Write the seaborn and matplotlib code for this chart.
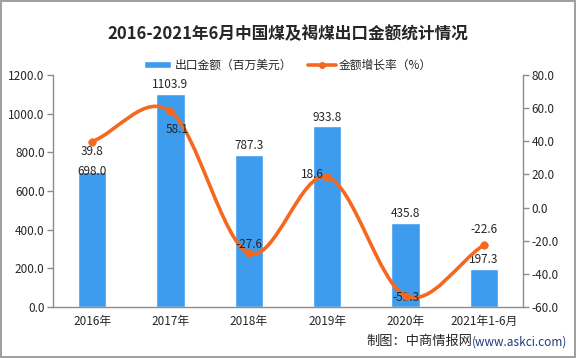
import matplotlib
matplotlib.use('Agg')
import matplotlib.pyplot as plt
import seaborn as sns
import pandas as pd
import numpy as np
from matplotlib.path import Path
from matplotlib.patches import PathPatch, Patch
from matplotlib.lines import Line2D

# data
years = ['2016年', '2017年', '2018年', '2019年', '2020年', '2021年1-6月']
export_value = [698.0, 1103.9, 787.3, 933.8, 435.8, 197.3]
growth_rate = [39.8, 58.1, -27.6, 18.6, -53.3, -22.6]

bar_color = '#3E9CEF'
line_color = '#F4691F'

sns.set_style('white')
plt.rcParams['font.family'] = ['Noto Sans CJK SC', 'DejaVu Sans']

df = pd.DataFrame({'year': years, 'value': export_value, 'growth': growth_rate})

fig = plt.figure(figsize=(5.76, 3.58), dpi=100)
fig.patch.set_edgecolor('#A0A0A0')
fig.patch.set_linewidth(1.5)
ax = fig.add_axes([0.092, 0.1425, 0.816, 0.648])

sns.barplot(data=df, x='year', y='value', color=bar_color, width=0.36,
            saturation=1, ax=ax)
ax.set_ylim(0, 1200)
ax.set_xlim(-0.5, len(years) - 0.5)
ax.set_yticks(np.arange(0, 1201, 200))
ax.set_yticklabels([f'{v:.1f}' for v in np.arange(0, 1201, 200)])
ax.set_xlabel('')
ax.set_ylabel('')

# bar value labels
bar_offsets = [-4, 2, 2, 2, 2, 2]
for i, (v, off) in enumerate(zip(export_value, bar_offsets)):
    ax.annotate(f'{v:.1f}', (i, v), xytext=(0, off), textcoords='offset points',
                ha='center', va='bottom', fontsize=8.5)

# right axis for growth rate
ax2 = ax.twinx()
ax2.set_ylim(-60, 80)
ax2.set_yticks(np.arange(-60, 81, 20))
ax2.set_yticklabels([f'{v:.1f}' for v in np.arange(-60, 81, 20)])

# smooth curve (Catmull-Rom as cubic bezier) through the growth points
xs = np.arange(len(growth_rate), dtype=float)
ys = np.array(growth_rate, dtype=float)
n = len(xs)
tx = np.zeros(n)
ty = np.zeros(n)
for i in range(n):
    a = max(i - 1, 0)
    b = min(i + 1, n - 1)
    tx[i] = (xs[b] - xs[a]) / (b - a)
    ty[i] = (ys[b] - ys[a]) / (b - a)
verts = [(xs[0], ys[0])]
codes = [Path.MOVETO]
for i in range(n - 1):
    verts += [(xs[i] + tx[i] / 3, ys[i] + ty[i] / 3),
              (xs[i + 1] - tx[i + 1] / 3, ys[i + 1] - ty[i + 1] / 3),
              (xs[i + 1], ys[i + 1])]
    codes += [Path.CURVE4] * 3
ax2.add_patch(PathPatch(Path(verts, codes), facecolor='none',
                        edgecolor=line_color, lw=2.6, capstyle='round'))
sns.scatterplot(x=xs, y=ys, color=line_color, s=30, edgecolor=line_color,
                ax=ax2, zorder=5)

# growth labels
offsets = [(0, -7), (5, -13), (0, 6), (-11, 1.5), (0, -1), (0, 11)]
for i, (v, off) in enumerate(zip(growth_rate, offsets)):
    ax2.annotate(f'{v:.1f}', (i, v), xytext=off, textcoords='offset points',
                 ha='center', va='center', fontsize=8.5)

# styling spines / ticks
for a in (ax, ax2):
    a.spines['top'].set_visible(False)
    for s in ('left', 'right', 'bottom'):
        a.spines[s].set_color('#8C8C8C')
        a.spines[s].set_linewidth(1)
    a.tick_params(axis='y', length=4, width=1, color='#8C8C8C',
                  labelsize=8.5, pad=2)
ax.spines['right'].set_visible(False)
ax2.spines['left'].set_visible(False)
ax2.spines['bottom'].set_visible(False)
ax.tick_params(axis='y', left=True, direction='out')
ax2.tick_params(axis='y', right=True, direction='out')
ax.tick_params(axis='x', length=0, labelsize=8.5, pad=6)
ax.set_xticks(np.arange(-0.5, len(years), 1), minor=True)
ax.tick_params(axis='x', which='minor', length=4, width=1,
               color='#8C8C8C', direction='out')

# title and legend
fig.text(0.5, 0.905, '2016-2021年6月中国煤及褐煤出口金额统计情况',
         ha='center', va='center', fontsize=12, fontweight='bold')
handles = [Patch(facecolor=bar_color, label='出口金额（百万美元）'),
           Line2D([0], [0], color=line_color, lw=2.6, marker='o',
                  markersize=4, label='金额增长率（%）')]
fig.legend(handles=handles, loc='center', bbox_to_anchor=(0.5, 0.818),
           ncol=2, frameon=False, fontsize=8.5, handlelength=2.3,
           handleheight=0.5, columnspacing=1.4, handletextpad=0.3)

# source note
url = fig.text(0.985, 0.045, '(www.askci.com)', ha='right', va='center',
               fontsize=8.5, color='#1E3A78')
fig.canvas.draw()
bb = url.get_window_extent()
fig.text(bb.x0 / fig.bbox.width, 0.045, '制图：中商情报网', ha='right',
         va='center', fontsize=9.5)

fig.savefig('out.png', dpi=100)
